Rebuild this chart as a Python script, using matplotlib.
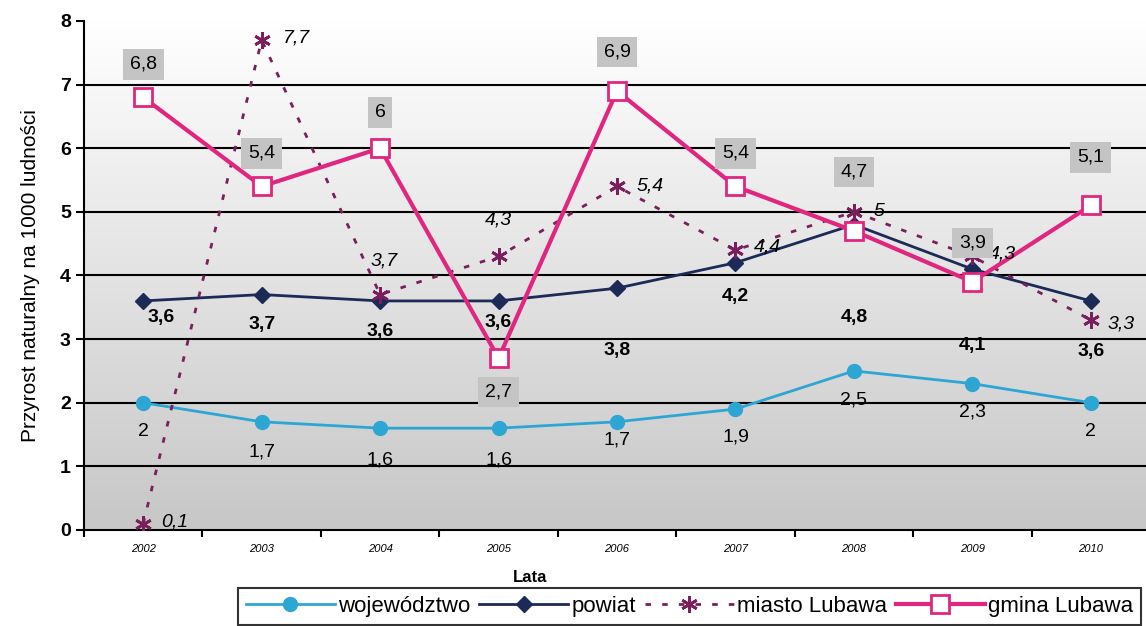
import numpy as np
import matplotlib
matplotlib.use("Agg")
import matplotlib.pyplot as plt

plt.rcParams['font.family'] = ['Liberation Sans', 'DejaVu Sans']

# ---- dane ----
lata = ['2002', '2003', '2004', '2005', '2006', '2007', '2008', '2009', '2010']
wojewodztwo = [2.0, 1.7, 1.6, 1.6, 1.7, 1.9, 2.5, 2.3, 2.0]
powiat = [3.6, 3.7, 3.6, 3.6, 3.8, 4.2, 4.8, 4.1, 3.6]
miasto = [0.1, 7.7, 3.7, 4.3, 5.4, 4.4, 5.0, 4.3, 3.3]
gmina = [6.8, 5.4, 6.0, 2.7, 6.9, 5.4, 4.7, 3.9, 5.1]

# ---- przesunięcia etykiet (piksele) ----
off_woj = [(0, -29), (0, -30), (0, -32), (0, -32), (0, -18), (0, -28), (0, -29), (0, -28), (0, -29)]
off_pow = [(18, -17), (0, -30), (0, -31), (0, -22), (0, -62), (0, -34), (0, -93), (0, -76), (0, -51)]
off_gm = [(0, 33), (0, 33), (0, 36), (0, -34), (0, 39), (0, 33), (0, 59), (0, 39), (0, 48)]
off_mi = [(18, 2, 'left'), (21, 2, 'left'), (4, 34, 'center'), (0, 36, 'center'), (20, 0, 'left'),
          (18, 3, 'left'), (20, 0, 'left'), (17, 2, 'left'), (17, -4, 'left')]

def fmt(v):
    s = ('%.1f' % v).replace('.', ',')
    return s[:-2] if s.endswith(',0') else s

C_WOJ = '#2EA6D4'
C_POW = '#1B2A57'
C_MI = '#7A1F5C'
C_GM = '#E0267F'

fig = plt.figure(figsize=(11.46, 6.26), dpi=100)
ax = fig.add_axes([0.0733, 0.1534, 0.9302, 0.8131])

x = np.arange(len(lata))
ax.set_xlim(-0.5, len(lata) - 0.5)
ax.set_ylim(0, 8)

# tło gradientowe: biel u góry, szarość u dołu
g = np.linspace(1.0, 0.78, 256)
grad = np.dstack([g, g, g]).reshape(256, 1, 3)
ax.imshow(grad, extent=[-0.5, len(lata) - 0.5, 0, 8], aspect='auto', zorder=0,
          origin='upper', interpolation='bilinear')

for yv in range(1, 8):
    ax.axhline(yv, color='black', lw=1.5, zorder=1)

l1, = ax.plot(x, wojewodztwo, color=C_WOJ, lw=2, marker='o', ms=10, zorder=3,
              label='województwo')
l2, = ax.plot(x, powiat, color=C_POW, lw=2, marker='D', ms=8, zorder=3, label='powiat')
l3, = ax.plot(x, miasto, color=C_MI, lw=2, ls=(0, (2, 4)), marker=(6, 2, 0), ms=12, mew=2,
              zorder=4, label='miasto Lubawa')
l4, = ax.plot(x, gmina, color=C_GM, lw=3, marker='s', ms=13, mfc='white', mec=C_GM, mew=2,
              zorder=5, label='gmina Lubawa')

for i in x:
    ax.annotate(fmt(wojewodztwo[i]), (i, wojewodztwo[i]), xytext=off_woj[i],
                textcoords='offset pixels', ha='center', va='center', fontsize=14, zorder=6)
    ax.annotate(fmt(powiat[i]), (i, powiat[i]), xytext=off_pow[i],
                textcoords='offset pixels', ha='center', va='center', fontsize=14,
                fontweight='bold', zorder=6)
    dx, dy, ha = off_mi[i]
    ax.annotate(fmt(miasto[i]), (i, miasto[i]), xytext=(dx, dy),
                textcoords='offset pixels', ha=ha, va='center', fontsize=14,
                fontstyle='italic', zorder=6)
    ax.annotate(fmt(gmina[i]), (i, gmina[i]), xytext=off_gm[i],
                textcoords='offset pixels', ha='center', va='center', fontsize=14, zorder=6,
                bbox=dict(boxstyle='square,pad=0.35', fc='#C4C4C4', ec='none'))

ax.set_xticks(x)
ax.set_xticklabels(lata, fontsize=8, fontstyle='italic')
ax.set_xticks(np.arange(-0.5, len(lata), 1.0), minor=True)
ax.tick_params(axis='x', which='major', length=0, pad=10)
ax.tick_params(axis='x', which='minor', length=5, width=1.5, direction='out')
ax.set_yticks(range(0, 9))
ax.tick_params(axis='y', length=6, width=1.5, labelsize=14)
for t in ax.get_yticklabels():
    t.set_fontweight('bold')

for s in ['top', 'right']:
    ax.spines[s].set_visible(False)
ax.spines['left'].set_linewidth(1.5)
ax.spines['bottom'].set_linewidth(1.5)

ax.set_ylabel('Przyrost naturalny na 1000 ludności', fontsize=15, labelpad=14)
fig.text(530 / 1146, 1 - 578 / 626, 'Lata', ha='center', va='center', fontsize=12,
         fontweight='bold')

leg = fig.legend(handles=[l1, l2, l3, l4], loc='upper left',
                 bbox_to_anchor=(238 / 1146, 1 - 588 / 626), ncol=4, fontsize=16,
                 frameon=True, fancybox=False, edgecolor='black', handlelength=4.0,
                 handletextpad=0.15, columnspacing=0.4, borderpad=0.35, borderaxespad=0)
leg.get_frame().set_linewidth(1.5)

fig.savefig('out.png', dpi=100)
